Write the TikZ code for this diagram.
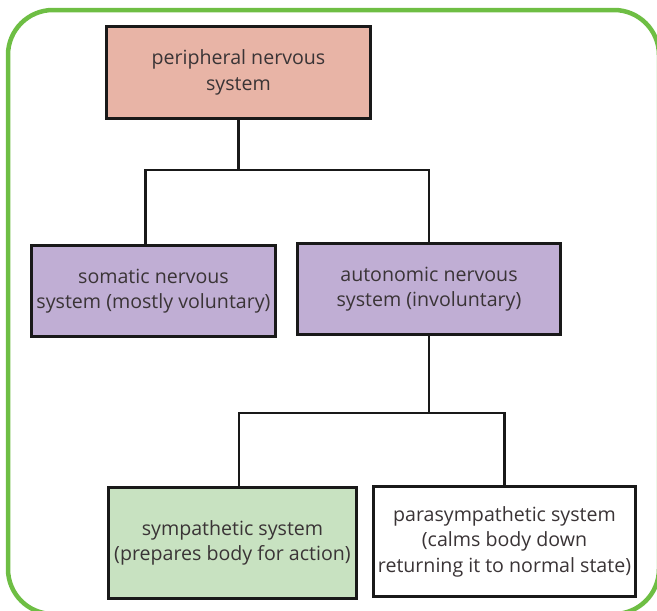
\documentclass[tikz,border=0pt]{standalone}
\usepackage{fontspec}
\setmainfont{Open Sans}
\definecolor{frame}{HTML}{6EBE44}
\definecolor{pnsfill}{HTML}{E8B4A6}
\definecolor{divfill}{HTML}{C0AED4}
\definecolor{sympfill}{HTML}{C8E2C1}
\definecolor{ink}{HTML}{3A3436}

\begin{document}
\begin{tikzpicture}[x=1pt,y=-1pt,
    box/.style={draw=black!90,line width=2.6pt,align=center,text=ink,inner sep=0pt,
      font=\fontsize{19.6}{25.5}\selectfont},
    conn/.style={draw=black!90,line width=2.4pt}]
      \useasboundingbox (0,0) rectangle (657,611);
      \clip (0,0) rectangle (657,611);

      % green frame, runs off the right and bottom
      \draw[frame,line width=4.5pt,rounded corners=45pt] (8,10) rectangle (659,614);

      \path
      (238.5,72.5) node[box,fill=pnsfill,minimum width=264.4pt,minimum height=92.4pt](pns) {peripheral nervous\\system}
      (153.5,291) node[box,fill=divfill,minimum width=244.4pt,minimum height=91.4pt](sns) {somatic nervous\\system (mostly voluntary)}
      (429,289) node[box,fill=divfill,minimum width=263.4pt,minimum height=91.4pt](ans) {autonomic nervous\\system (involuntary)}
      (232.5,543) node[box,fill=sympfill,minimum width=248.4pt,minimum height=111.4pt](symp) {sympathetic system\\(prepares body for action)}
      (504.5,541.5) node[box,fill=white,minimum width=262.4pt,minimum height=110.4pt](para) {parasympathetic system\\(calms body down\\returning it to normal state)}
      ;

      \draw[conn] (pns.south) -- ++(0,50) coordinate(j1);
      \draw[conn] ([xshift=-8pt]sns.north) |- (j1) -| (ans.north);

      \draw[conn] (ans.south) -- ++(0,77) coordinate(j2);
      \draw[conn] ([xshift=6.5pt]symp.north) |- (j2) -| (para.north);
    \end{tikzpicture}
\end{document}
